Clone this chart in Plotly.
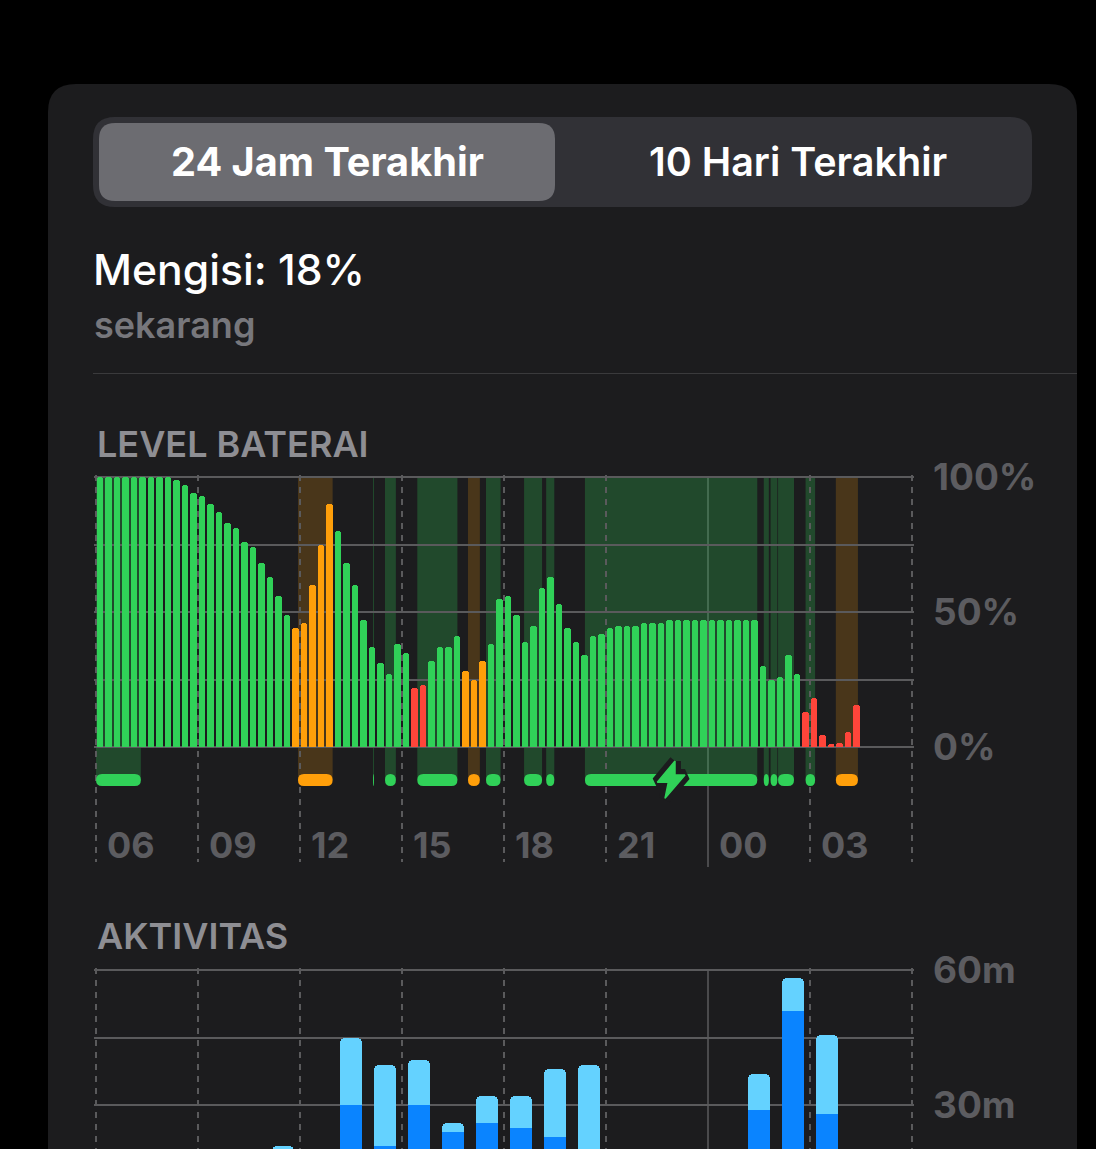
import plotly.graph_objects as go

W, H = 1096, 1149

# ---------- data ----------
tick_hours = [0, 3, 6, 9, 12, 15, 18, 21, 24]
tick_labels = ["06", "09", "12", "15", "18", "21", "00", "03"]

battery_levels = [
    100, 100, 100, 100, 100, 100, 100, 100, 100, 98.8,
    97, 94, 93, 90, 87, 83, 81, 76, 74, 68,
    63, 56, 49, 44, 46, 60, 75, 90, 80, 68,
    60, 47, 37, 31, 27, 38, 35, 22, 23, 32,
    37, 37, 41, 28, 25, 32, 38, 55, 56, 49,
    39, 45, 59, 63, 53, 44, 39, 34, 41, 42,
    44, 45, 45, 45, 46, 46, 46, 47, 47, 47,
    47, 47, 47, 47, 47, 47, 47, 47, 30, 25,
    26, 34, 27, 13, 18, 4.6, 1, 1.6, 5.7, 15.7,
]
battery_state = (["g"] * 23 + ["o"] * 5 + ["g"] * 9 + ["r"] * 2 + ["g"] * 4 + ["o"] * 3
                 + ["g"] * 37 + ["r"] * 7)

green_spans = [(0, 1.32), (8.147, 8.176), (8.5, 8.82), (9.45, 10.63), (11.47, 11.9),
               (12.59, 13.12), (13.24, 13.48), (14.38, 19.45), (19.64, 19.79),
               (19.84, 20.04), (20.06, 20.53), (20.87, 21.15)]
orange_spans = [(5.94, 6.96), (10.94, 11.29), (21.76, 22.41)]

activity_hours = [5, 7, 8, 9, 10, 11, 12, 13, 14, 19, 20, 21]
screen_on = [15, 30, 20.9, 30, 24, 26, 24.9, 22.9, 15, 28.9, 50.9, 28]
screen_off = [5.9, 14.8, 17.9, 10, 2, 6, 7.1, 15.1, 23.8, 8, 7.3, 17.6]

battery_ticks = [100, 75, 50, 25, 0]
battery_ticktext = ["100%", "", "50%", "", "0%"]
activity_ticks = [60, 45, 30]
activity_ticktext = ["60m", "", "30m"]

GREEN, ORANGE, RED = "#30D158", "#FF9F0A", "#FF453A"
GRID = "#5a5a5c"
AXTXT = "#5c5c60"
CARD = "#1c1c1e"
FONT = "Inter"

state_color = {"g": GREEN, "o": ORANGE, "r": RED}

# ---------- geometry helpers ----------
X0, X1 = 96, 912
PX_PER_H = (X1 - X0) / 24
PX_PER_PCT = 2.7
PAD = 2  # pixels of slack so the edge gridlines are drawn


def fx(px):
    return px / W


def fy(py):
    return 1 - py / H


def h2data(px):
    return (px - X0) / PX_PER_H


def p2data(py):
    return (747 - py) / PX_PER_PCT


def rrect(x0, y0, x1, y1, rx, ry):
    return (f"M{x0},{y0+ry} Q{x0},{y0} {x0+rx},{y0} L{x1-rx},{y0} Q{x1},{y0} {x1},{y0+ry} "
            f"L{x1},{y1-ry} Q{x1},{y1} {x1-rx},{y1} L{x0+rx},{y1} Q{x0},{y1} {x0},{y1-ry} Z")


def paper_rrect(x0, y0, x1, y1, r):
    return rrect(fx(x0), fy(y0), fx(x1), fy(y1), r / W, -r / H)


fig = go.Figure()

# ---------- page chrome ----------
cr = 28
card_path = (f"M{fx(48)},{fy(1149)} L{fx(48)},{fy(84+cr)} Q{fx(48)},{fy(84)} {fx(48+cr)},{fy(84)} "
             f"L{fx(1077-cr)},{fy(84)} Q{fx(1077)},{fy(84)} {fx(1077)},{fy(84+cr)} L{fx(1077)},{fy(1149)} Z")
shapes = [
    dict(type="path", path=card_path, xref="paper", yref="paper", fillcolor=CARD, line_width=0, layer="below"),
    dict(type="path", path=paper_rrect(93, 117, 1032, 207, 22), xref="paper", yref="paper",
         fillcolor="#313136", line_width=0, layer="below"),
    dict(type="path", path=paper_rrect(99, 123, 555, 201, 16), xref="paper", yref="paper",
         fillcolor="#6c6c71", line_width=0, layer="below"),
    dict(type="line", x0=fx(93), x1=fx(1077), y0=fy(373.5), y1=fy(373.5), xref="paper", yref="paper",
         line=dict(color="#3a3a3c", width=1), layer="below"),
]

# ---------- usage bands and pills ----------
y_top, y_band_low = 100, p2data(780)
pill_hi, pill_lo = p2data(774), p2data(786)
for spans, col, rgba in ((green_spans, GREEN, "rgba(48,209,88,0.25)"),
                         (orange_spans, ORANGE, "rgba(255,159,10,0.2)")):
    for a, b in spans:
        shapes.append(dict(type="rect", x0=a, x1=b, y0=y_band_low, y1=y_top, xref="x", yref="y",
                           fillcolor=rgba, line_width=0, layer="below"))
        rx = min(6 / PX_PER_H, (b - a) / 2)
        ry = 6 / PX_PER_PCT
        shapes.append(dict(type="path", path=rrect(a, pill_hi, b, pill_lo, rx, -ry), xref="x", yref="y",
                           fillcolor=col, line_width=0, layer="between"))

# solid midnight rule in both panels
shapes.append(dict(type="line", x0=18, x1=18, xref="x", yref="paper", y0=fy(867), y1=fy(477),
                   line=dict(color=GRID, width=1.5), layer="below"))
shapes.append(dict(type="line", x0=18, x1=18, xref="x2", yref="paper", y0=0, y1=fy(970),
                   line=dict(color=GRID, width=1.5), layer="below"))
fig.update_layout(shapes=shapes)

# ---------- traces ----------
fig.add_trace(go.Bar(
    x=[0.1176 + 0.25 * i for i in range(len(battery_levels))], y=battery_levels,
    width=6.3 / PX_PER_H, xaxis="x", yaxis="y", hoverinfo="skip",
    marker=dict(color=[state_color[s] for s in battery_state], line_width=0, cornerradius=3),
))

# charging bolt icon
bolt_px = [(675, 761), (657.3, 782.3), (668.3, 782.3), (665, 798.3), (685, 775), (675, 775), (675, 761)]
bolt_x = [h2data(p[0]) for p in bolt_px]
bolt_y = [p2data(p[1]) for p in bolt_px]
fig.add_trace(go.Scatter(x=bolt_x, y=bolt_y, mode="lines", line=dict(color=CARD, width=12),
                         fill="toself", fillcolor=CARD, hoverinfo="skip", xaxis="x", yaxis="y",
                         cliponaxis=False))
fig.add_trace(go.Scatter(x=bolt_x, y=bolt_y, mode="lines", line=dict(color=GREEN, width=1.5),
                         fill="toself", fillcolor=GREEN, hoverinfo="skip", xaxis="x", yaxis="y",
                         cliponaxis=False))

bar_x = [h + 0.5 for h in activity_hours]
fig.add_trace(go.Bar(x=bar_x, y=screen_on, width=22.5 / PX_PER_H, xaxis="x2", yaxis="y2", hoverinfo="skip",
                     marker=dict(color="#0A84FF", line_width=0, cornerradius=5)))
fig.add_trace(go.Bar(x=bar_x, y=screen_off, width=22.5 / PX_PER_H, xaxis="x2", yaxis="y2", hoverinfo="skip",
                     marker=dict(color="#64D2FF", line_width=0, cornerradius=5)))

# ---------- axes ----------
dash_ticks = [t for t in tick_hours if t != 18]
xcommon = dict(range=[h2data(X0 - PAD), h2data(X1 + PAD)], domain=[fx(X0 - PAD), fx(X1 + PAD)],
               tickmode="array", tickvals=dash_ticks, showticklabels=False, automargin=False,
               showgrid=True, gridcolor=GRID, gridwidth=2, griddash="6px,6px", zeroline=False, showline=False,
               ticks="", fixedrange=True)


def ycommon(rng, dom, vals, text):
    return dict(range=rng, domain=dom, tickmode="array", tickvals=vals, ticktext=text, side="right",
                showgrid=True, gridcolor=GRID, gridwidth=1.5, zeroline=False, showline=False, ticks="",
                ticklabelstandoff=18, fixedrange=True, automargin=False,
                tickfont=dict(family=FONT, size=37, color=AXTXT, weight=700))


fig.update_layout(
    width=W, height=H, margin=dict(l=0, r=0, t=0, b=0, autoexpand=False), autosize=False,
    paper_bgcolor="#000000", plot_bgcolor="rgba(0,0,0,0)", showlegend=False,
    barmode="stack", bargap=0,
    xaxis=dict(xcommon, anchor="y"),
    yaxis=ycommon([p2data(862), p2data(477 - PAD)], [fy(862), fy(477 - PAD)], battery_ticks, battery_ticktext)
    | dict(anchor="x"),
    xaxis2=dict(xcommon, anchor="y2"),
    yaxis2=ycommon([60 - (H - 970) / 4.5, 60 + PAD / 4.5], [0, fy(970 - PAD)], activity_ticks, activity_ticktext)
    | dict(anchor="x2"),
)


def text(x, y, s, size, color, weight=400, anchor="left"):
    fig.add_annotation(x=fx(x), y=fy(y), text=s, xref="paper", yref="paper", xanchor=anchor, yanchor="middle",
                       showarrow=False, font=dict(family=FONT, size=size, color=color, weight=weight))


text(327, 162, "24 Jam Terakhir", 39.7, "#ffffff", 700, "center")
text(798, 162, "10 Hari Terakhir", 39.5, "#ffffff", 600, "center")
text(91, 269, "Mengisi: 18%", 42.7, "#ffffff", 500)
text(92, 325, "sekarang", 36, "#77777c", 600)
text(95, 444, "LEVEL BATERAI", 36, "#8e8e93", 600)
text(95, 936, "AKTIVITAS", 36, "#8e8e93", 600)

for lab, h in zip(tick_labels, tick_hours):
    fig.add_annotation(x=h, y=fy(845), xref="x", yref="paper", text=lab, xanchor="left", yanchor="middle",
                       xshift=9, showarrow=False, font=dict(family=FONT, size=36, color=AXTXT, weight=700))

fig.write_html("out.html", config={"displayModeBar": False},
               post_script="document.body.style.margin='0';document.body.style.overflow='hidden';")
